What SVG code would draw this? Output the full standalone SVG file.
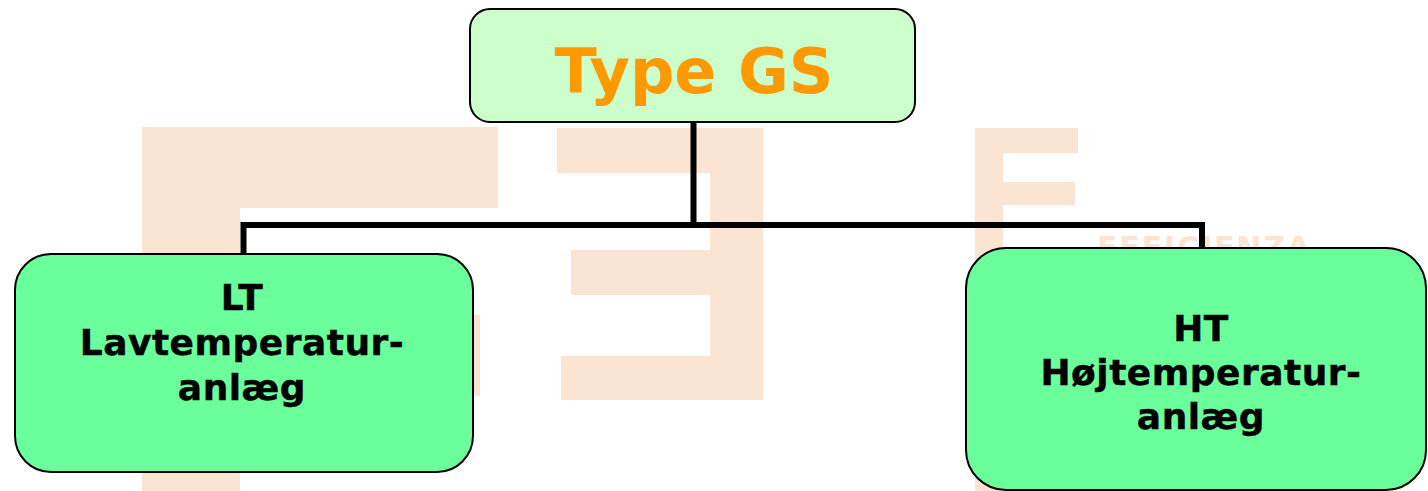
<svg xmlns="http://www.w3.org/2000/svg" width="1428" height="491" viewBox="0 0 1428 491">
  <style>
    .wm { fill: #FCE4D3; }
    .node-top { fill: #CCFFCC; stroke: #000; stroke-width: 2; }
    .node { fill: #6AFF9A; stroke: #000; stroke-width: 2; }
    .title { font-family: "DejaVu Sans", Verdana, sans-serif; font-weight: bold; font-size: 62px; fill: #FF9900; text-anchor: middle; }
    .label { font-family: "DejaVu Sans", Verdana, sans-serif; font-weight: bold; font-size: 36px; fill: #000; text-anchor: middle; letter-spacing: 0.5px; stroke: #000; stroke-width: 0.4px; }
    .wmtext { font-family: "DejaVu Sans", Verdana, sans-serif; font-weight: bold; font-size: 30px; fill: #FCE4D3; }
    .conn { stroke: #000; stroke-width: 6; fill: none; stroke-linecap: butt; stroke-linejoin: miter; }
  </style>
  <rect width="1428" height="491" fill="#FFFFFF"/>
  <g id="watermark">
    <rect class="wm" x="142" y="127" width="356" height="81"/>
    <rect class="wm" x="142" y="127" width="98" height="364"/>
    <rect class="wm" x="240" y="315" width="240" height="81"/>
    <rect class="wm" x="557" y="128" width="206" height="45"/>
    <rect class="wm" x="710" y="128" width="53" height="272"/>
    <rect class="wm" x="571" y="250" width="139" height="45"/>
    <rect class="wm" x="561" y="356" width="202" height="44"/>
    <rect class="wm" x="975" y="128" width="103" height="25"/>
    <rect class="wm" x="975" y="128" width="28" height="363"/>
    <rect class="wm" x="975" y="182" width="100" height="23"/>
    <text class="wmtext" x="1097" y="258" textLength="213" lengthAdjust="spacing">EFFICIENZA</text>
  </g>
  <g id="connectors">
    <path class="conn" d="M693.5,122 V225 M240.5,225 H1205 M243.5,225 V254 M1202,225 V248"/>
  </g>
  <g id="node-type-gs">
    <rect class="node-top" x="470" y="9" width="445" height="113" rx="20" ry="20"/>
    <text class="title" x="694" y="93">Type GS</text>
  </g>
  <g id="node-lt">
    <rect class="node" x="15" y="254" width="458" height="218" rx="36" ry="36"/>
    <text class="label" x="242" y="310">LT</text>
    <text class="label" x="242" y="355">Lavtemperatur-</text>
    <text class="label" x="242" y="400">anlæg</text>
  </g>
  <g id="node-ht">
    <rect class="node" x="966" y="248" width="460" height="242" rx="40" ry="40"/>
    <text class="label" x="1201" y="341">HT</text>
    <text class="label" x="1201" y="385">Højtemperatur-</text>
    <text class="label" x="1201" y="429">anlæg</text>
  </g>
</svg>
